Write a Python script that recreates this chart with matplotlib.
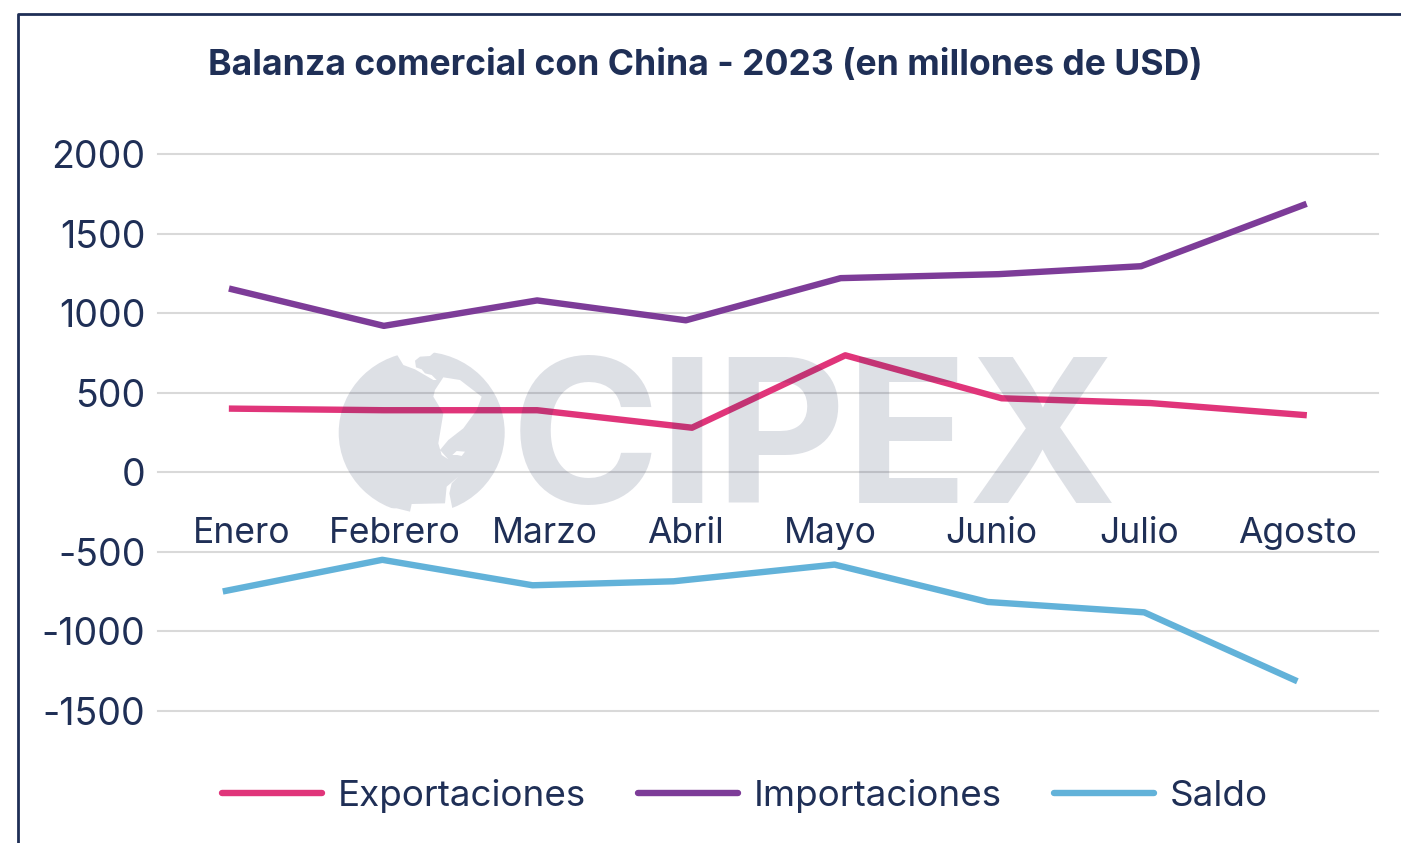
#!/usr/bin/env python3
"""Balanza comercial con China 2023 - lineas + marca de agua."""
import matplotlib

matplotlib.use("Agg")
import matplotlib.pyplot as plt  # noqa: E402
from matplotlib.lines import Line2D  # noqa: E402
from matplotlib.patches import Ellipse, PathPatch  # noqa: E402
from matplotlib.path import Path  # noqa: E402

W, H = 1401, 843
NAVY = "#1f2f56"
WM_ALPHA = 0.15
LW = 4.6

meses = ["Enero", "Febrero", "Marzo", "Abril", "Mayo", "Junio", "Julio", "Agosto"]
mes_pos = [0.065, 1.06, 2.04, 2.96, 3.90, 4.95, 5.92, 6.95]

exp_x = [0, 0.99, 1.99, 3.0, 4.0, 5.02, 5.99, 6.99]
imp_x = [0, 0.99, 1.99, 2.96, 3.97, 5.0, 5.93, 6.99]
sal_x = [-0.04, 0.98, 1.96, 2.88, 3.93, 4.93, 5.95, 6.93]

exportaciones = [400, 390, 390, 280, 735, 465, 435, 360]
importaciones = [1150, 920, 1080, 955, 1220, 1245, 1295, 1680]
saldo = [-745, -550, -710, -685, -580, -815, -880, -1305]

yticks = [2000, 1500, 1000, 500, 0, -500, -1000, -1500]

plt.rcParams["font.family"] = ["Inter", "DejaVu Sans"]

fig = plt.figure(figsize=(W / 100, H / 100), dpi=100)
ax = fig.add_axes([158 / W, 1 - 711 / H, (1378 - 158) / W, (711 - 154) / H])
for name, sp in ax.spines.items():
    sp.set_visible(False)
ax.spines["bottom"].set_position(("data", 0))  # etiquetas de meses bajo el cero
ax.set_xlim(-0.483, 7.475)
ax.set_ylim(-1500, 2000)

ax.plot(exp_x, exportaciones, color="#e0357a", lw=LW, label="Exportaciones", solid_joinstyle="round")
ax.plot(imp_x, importaciones, color="#7d3c98", lw=LW, label="Importaciones", solid_joinstyle="round")
ax.plot(sal_x, saldo, color="#62b2d9", lw=LW, label="Saldo", solid_joinstyle="round")

ax.set_yticks(yticks)
ax.set_yticklabels([str(v) for v in yticks], fontsize=27, color=NAVY)
ax.set_xticks(mes_pos)
ax.set_xticklabels(meses, fontsize=25.5, color=NAVY)
ax.tick_params(axis="y", length=0, pad=9)
ax.tick_params(axis="x", length=0, pad=32.5)
ax.grid(axis="y", color="#d9d9d9", lw=1.5)
ax.set_axisbelow(True)
for g in ax.yaxis.get_gridlines():
    g.set_clip_on(False)

leg = ax.legend(loc="center", bbox_to_anchor=(745 / W, 1 - 796 / H), bbox_transform=fig.transFigure,
                ncol=3, frameon=False, fontsize=26.5, labelcolor=NAVY, handlelength=2.72,
                handletextpad=0.43, columnspacing=1.41, borderpad=0)
for h in leg.get_lines():
    h.set_solid_capstyle("round")
    h.set_linewidth(LW)

fig.text(705 / W, 1 - 65 / H, "Balanza comercial con China - 2023 (en millones de USD)",
         ha="center", va="center", fontsize=25.6, fontweight="bold", color=NAVY)

# marca de agua + marco, en pixeles
ov = fig.add_axes([0, 0, 1, 1], facecolor="none")
ov.set_xlim(0, W)
ov.set_ylim(H, 0)
ov.axis("off")


def _z(pts):
    # coordenadas del recorte ampliado -> pixeles
    return [(x / 3 + 320, y / 3 + 340) for x, y in pts]


huecos = [
    [(230, 42), (250, 75), (285, 88), (340, 120), (350, 120), (335, 105), (315, 100), (305, 88),
     (288, 82), (285, 62), (300, 50), (330, 48), (345, 35), (345, 0), (230, 0)],
    [(345, 150), (370, 112), (420, 120), (485, 170), (470, 210), (430, 265), (385, 300), (360, 330),
     (385, 358), (365, 345), (355, 310), (370, 220), (340, 170)],
    [(190, 560), (200, 505), (230, 505), (270, 515), (275, 492), (375, 490), (380, 440), (415, 410),
     (395, 430), (388, 460), (398, 510), (420, 560)],
    [(397, 345), (410, 333), (435, 335), (425, 348), (412, 345)],
]
verts = [(300, 300), (550, 300), (550, 550), (300, 550), (300, 300)]
codes = [Path.MOVETO, Path.LINETO, Path.LINETO, Path.LINETO, Path.CLOSEPOLY]
for h in huecos:
    p = _z(h)
    # sentido contrario al rectangulo
    area = sum(a[0] * b[1] - b[0] * a[1] for a, b in zip(p, p[1:] + p[:1]))
    if area > 0:
        p = p[::-1]
    verts += p + [p[0]]
    codes += [Path.MOVETO] + [Path.LINETO] * (len(p) - 1) + [Path.CLOSEPOLY]

globo = Ellipse((421.7, 432.7), 166, 162, transform=ov.transData, fc="none", ec="none")
ov.add_patch(globo)
tierra = PathPatch(Path(verts, codes), fc=NAVY, ec="none", alpha=WM_ALPHA)
ov.add_patch(tierra)
tierra.set_clip_path(globo)
ov.text(511, 503, "CIPEX", fontsize=145, color=NAVY, alpha=WM_ALPHA, ha="left", va="baseline",
        fontweight="bold")

ov.add_line(Line2D([18, 18, W], [H, 14, 14], color=NAVY, lw=2))

fig.savefig("out.png", dpi=100)
